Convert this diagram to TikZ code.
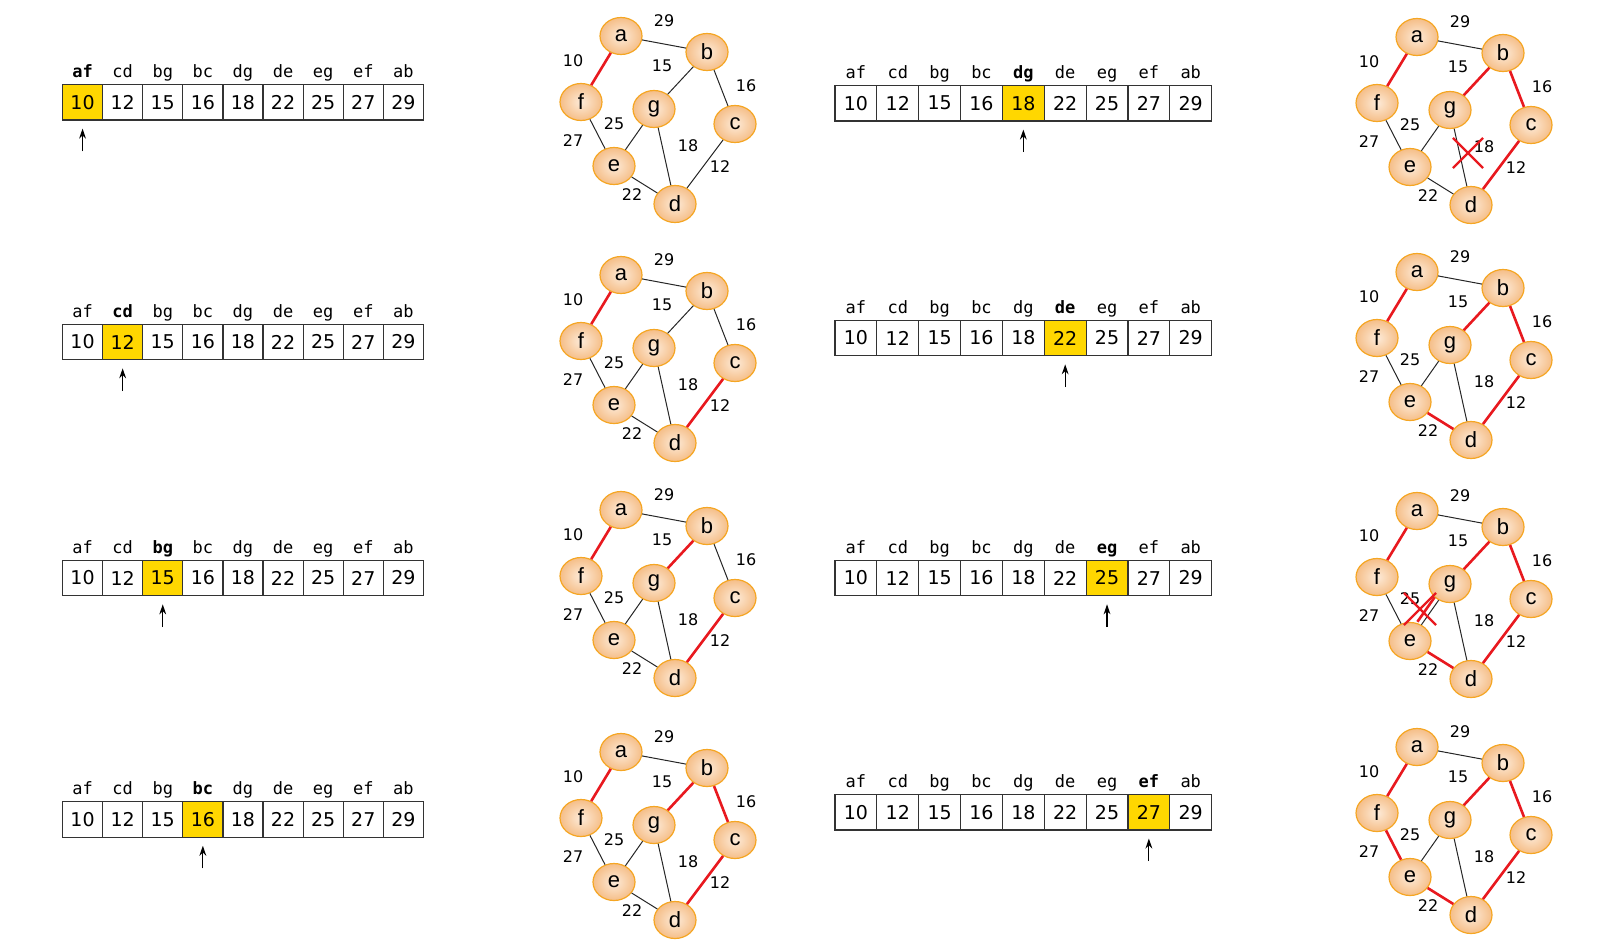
\documentclass[tikz,border=0pt]{standalone}
\usepackage{fontspec}
\setmainfont{DejaVu Sans}
\setmonofont{DejaVu Sans Mono}
\newfontfamily\vtxfont{Liberation Sans}
\usetikzlibrary{arrows.meta, shapes.geometric, shapes.misc}
\definecolor{hlYellow}{HTML}{FFD700}
\definecolor{treeRed}{HTML}{E8191F}
\definecolor{vtxEdge}{HTML}{F5A623}
\definecolor{vtxIn}{HTML}{FDEBD9}
\definecolor{vtxOut}{HTML}{F5BE88}
\definecolor{lineGray}{HTML}{333333}
\tikzset{
  every node/.style={font=\fontsize{9}{10}\selectfont},
  vtx/.style={ellipse, draw=vtxEdge, line width=0.6pt, shading=radial, inner color=vtxIn,
              outer color=vtxOut, minimum width=21pt, minimum height=18.5pt, inner sep=0pt,
              font=\vtxfont\fontsize{11}{12}\selectfont},
  wt/.style={inner sep=0pt, font=\fontsize{8}{9}\selectfont},
  graphedge/.style={draw=black!85, line width=0.5pt},
  mstedge/.style={draw=treeRed, line width=1.3pt},
  cell/.style={rectangle, draw=lineGray, line width=0.6pt, minimum height=17.75pt, inner sep=0pt,
               font=\fontsize{9.5}{10}\selectfont},
  head/.style={inner sep=0pt, text height=1.6ex, text depth=0.45ex,
               font=\ttfamily\fontsize{8.5}{9}\selectfont},
  ptr/.style={-{Stealth[length=5pt, width=3.4pt]}, line width=0.55pt, shorten >=4pt},
  reject/.style={cross out, draw=treeRed, line width=1.1pt, minimum size=14pt, inner sep=0pt},
}
% sorted edge list: prefix, left x, centre y, cell width (px), current cell
\newcommand{\kqueue}[5]{%
  \foreach \e/\w [count=\i] in {af/10,cd/12,bg/15,bc/16,dg/18,de/22,eg/25,ef/27,ab/29}{
    \ifnum\i=#5\relax\def\cfill{hlYellow}\def\hfont{\bfseries}\else\def\cfill{white}\def\hfont{}\fi
    \node[cell, fill=\cfill, minimum width=#4*0.5pt] (#1c\i) at ({#2+(\i-0.5)*#4},#3) {\w};
    \node[head] (#1h\i) at ({#2+(\i-0.5)*#4},#3-31) {\hfont\e};
  }
  \coordinate (#1tail) at ({#2+(#5-0.5)*#4},#3+49);
  \draw[ptr] (#1tail) -- (#1c#5.south);
}
% graph: prefix, position of a, plain edges, tree edges
\newcommand{\kgraph}[5]{%
  \begin{scope}[shift={(#2,#3)}]
    \foreach \n/\px/\py in {a/0/0, b/86/16, f/-40/66, g/33/73, c/114/88, e/-7/130, d/54/168}
      \node[vtx] (#1\n) at (\px,\py) {\n};
    \foreach \w/\px/\py in {29/43/-15, 10/-48/25, 15/41/30, 16/125/50, 25/-7/88,
                            27/-48/105, 18/67/110, 12/99/131, 22/11/159}
      \node[wt] (#1w\w) at (\px,\py) {\w};
  \end{scope}
  \foreach \u/\v in {#4} \draw[graphedge] (#1\u) -- (#1\v);
  \foreach \u/\v in {#5} \draw[mstedge] (#1\u) -- (#1\v);
}

\begin{document}
\begin{tikzpicture}[x=0.5pt, y=-0.5pt]
  \useasboundingbox (0,0) rectangle (1610,948);
  % left column
  \kqueue{L1}{62.5}{102.3}{40.1}{1}
  \kqueue{L2}{62.5}{342}{40.1}{2}
  \kqueue{L3}{62.5}{578}{40.1}{3}
  \kqueue{L4}{62.5}{819.4}{40.1}{4}
  \kgraph{GL1}{621}{36}{a/b,b/g,b/c,c/d,d/g,d/e,e/g,e/f}{a/f}
  \kgraph{GL2}{621}{275}{a/b,b/g,b/c,d/g,d/e,e/g,e/f}{a/f,c/d}
  \kgraph{GL3}{621}{510}{a/b,b/c,d/g,d/e,e/g,e/f}{a/f,c/d,b/g}
  \kgraph{GL4}{621}{752}{a/b,d/g,d/e,e/g,e/f}{a/f,c/d,b/g,b/c}
  % right column
  \kqueue{R1}{835}{103.2}{41.85}{5}
  \kqueue{R2}{835}{338}{41.85}{6}
  \kqueue{R3}{835}{578}{41.85}{7}
  \kqueue{R4}{835}{812.2}{41.85}{8}
  \kgraph{GR1}{1417}{37}{a/b,d/g,d/e,e/g,e/f}{a/f,c/d,b/g,b/c}
  \kgraph{GR2}{1417}{272}{a/b,d/g,e/g,e/f}{a/f,c/d,b/g,b/c,d/e}
  \kgraph{GR3}{1417}{511}{a/b,d/g,e/g,e/f}{a/f,c/d,b/g,b/c,d/e}
  \kgraph{GR4}{1417}{747}{a/b,d/g,e/g}{a/f,c/d,b/g,b/c,d/e,e/f}
  % rejected edges
  \node[reject] (GR1x) at (1468,153) {};
  \draw[mstedge, transform canvas={shift={(-4,-3)}}] (GR3e) -- (GR3g);
  \node[reject, minimum size=15pt] (GR3x) at (1420,609) {};
\end{tikzpicture}
\end{document}
